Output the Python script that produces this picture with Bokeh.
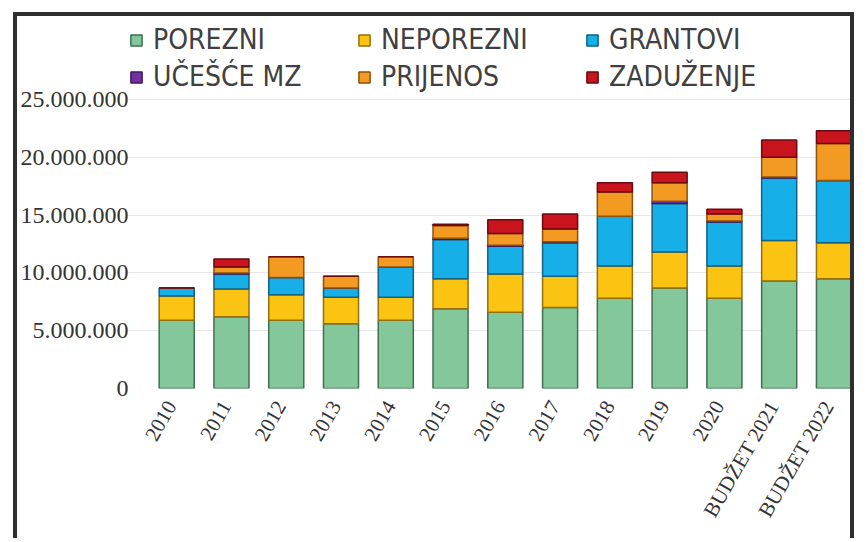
from bokeh.plotting import figure
from bokeh.models import (ColumnDataSource, Range1d, FixedTicker, Legend, LegendItem,
                          LinearAxis)
from bokeh.embed import file_html
from bokeh.resources import INLINE

years = ["2010", "2011", "2012", "2013", "2014", "2015", "2016", "2017",
         "2018", "2019", "2020", "BUDŽET 2021", "BUDŽET 2022"]
porezni = [5900000, 6200000, 5900000, 5600000, 5900000, 6900000, 6600000,
           7000000, 7800000, 8700000, 7800000, 9300000, 9500000]
neporezni = [2100000, 2400000, 2200000, 2300000, 2000000, 2600000, 3300000,
             2700000, 2800000, 3100000, 2800000, 3500000, 3100000]
grantovi = [700000, 1300000, 1500000, 800000, 2600000, 3400000, 2400000,
            2900000, 4300000, 4200000, 3800000, 5400000, 5400000]
ucesce_mz = [0, 100000, 0, 0, 0, 100000, 100000, 100000, 0, 200000,
             100000, 100000, 0]
prijenos = [0, 500000, 1800000, 1000000, 900000, 1100000, 1000000,
            1100000, 2100000, 1600000, 600000, 1700000, 3200000]
zaduzenje = [0, 700000, 0, 0, 0, 100000, 1200000, 1300000, 800000,
             900000, 400000, 1500000, 1100000]

series_names = ["POREZNI", "NEPOREZNI", "GRANTOVI", "UČEŠĆE MZ", "PRIJENOS", "ZADUŽENJE"]
y_ticks = [0, 5000000, 10000000, 15000000, 20000000, 25000000]
y_tick_labels = ["0", "5.000.000", "10.000.000", "15.000.000", "20.000.000", "25.000.000"]

fills = ["#84c79a", "#fbc312", "#17afe8", "#7131a1", "#f39a22", "#c9141d"]
edges = ["#3f6e50", "#94700a", "#13607f", "#40195e", "#8d520e", "#6a0a0e"]

keys = ["s0", "s1", "s2", "s3", "s4", "s5"]
source = ColumnDataSource(dict(
    x=list(range(len(years))),
    s0=porezni, s1=neporezni, s2=grantovi, s3=ucesce_mz, s4=prijenos, s5=zaduzenje,
))

p = figure(width=841, height=526, x_range=Range1d(-0.88, 12.43),
           y_range=Range1d(0, 32180000), output_backend="svg",
           toolbar_location=None, min_border_left=108, min_border_right=1,
           min_border_bottom=154, min_border_top=0, x_axis_location=None)
p.margin = (12, 0, 0, 13)
p.styles = {"border-top": "4px solid #2f2f2f", "border-left": "4px solid #2f2f2f",
            "border-right": "4px solid #2f2f2f"}
p.background_fill_color = "white"
p.border_fill_color = "white"
p.outline_line_color = None

renderers = p.vbar_stack(keys, x="x", width=0.64, source=source,
                         fill_color=fills, line_color=edges, line_width=1.5)

p.xgrid.grid_line_color = None
p.ygrid.grid_line_color = "#e8e8e8"
p.ygrid.ticker = FixedTicker(ticks=y_ticks)

p.yaxis.ticker = FixedTicker(ticks=y_ticks)
p.yaxis.major_label_overrides = {t: l for t, l in zip(y_ticks, y_tick_labels)}
p.yaxis.axis_line_color = None
p.yaxis.major_tick_line_color = None
p.yaxis.major_tick_out = 0
p.yaxis.major_tick_in = 0
p.yaxis.minor_tick_line_color = None
p.yaxis.major_label_text_font = "Liberation Serif"
p.yaxis.major_label_text_font_size = "24px"
p.yaxis.major_label_text_color = "#333333"
p.yaxis.major_label_standoff = 0

# category labels axis (slightly shifted range so rotated labels end at bar centres)
p.extra_x_ranges = {"labels": Range1d(-0.88 + 0.1, 12.43 + 0.1)}
xaxis = LinearAxis(x_range_name="labels",
                   ticker=FixedTicker(ticks=list(range(len(years)))),
                   major_label_overrides={i: y for i, y in enumerate(years)})
xaxis.axis_line_color = None
xaxis.major_tick_line_color = None
xaxis.major_tick_out = 0
xaxis.major_tick_in = 0
xaxis.minor_tick_line_color = None
xaxis.major_label_orientation = 1.05
xaxis.major_label_text_font = "Liberation Serif"
xaxis.major_label_text_font_size = "21px"
xaxis.major_label_text_color = "#333333"
xaxis.major_label_standoff = 14
p.add_layout(xaxis, "below")

items = [LegendItem(label=n, renderers=[r]) for n, r in zip(series_names, renderers)]
legend = Legend(items=items, ncols=3, orientation="horizontal",
                location=(1, 295), label_text_font="DejaVu Sans Condensed, Roboto",
                label_text_font_size="28px", label_text_color="#404040",
                glyph_width=14, glyph_height=14, label_width=200,
                label_standoff=10, spacing=4, padding=5, margin=0,
                border_line_color=None, background_fill_alpha=0)
p.add_layout(legend)

html = file_html(p, INLINE)
html = html.replace("<body>", '<body style="margin:0;background:#eef4fb;">', 1)
open("out.html", "w").write(html)
